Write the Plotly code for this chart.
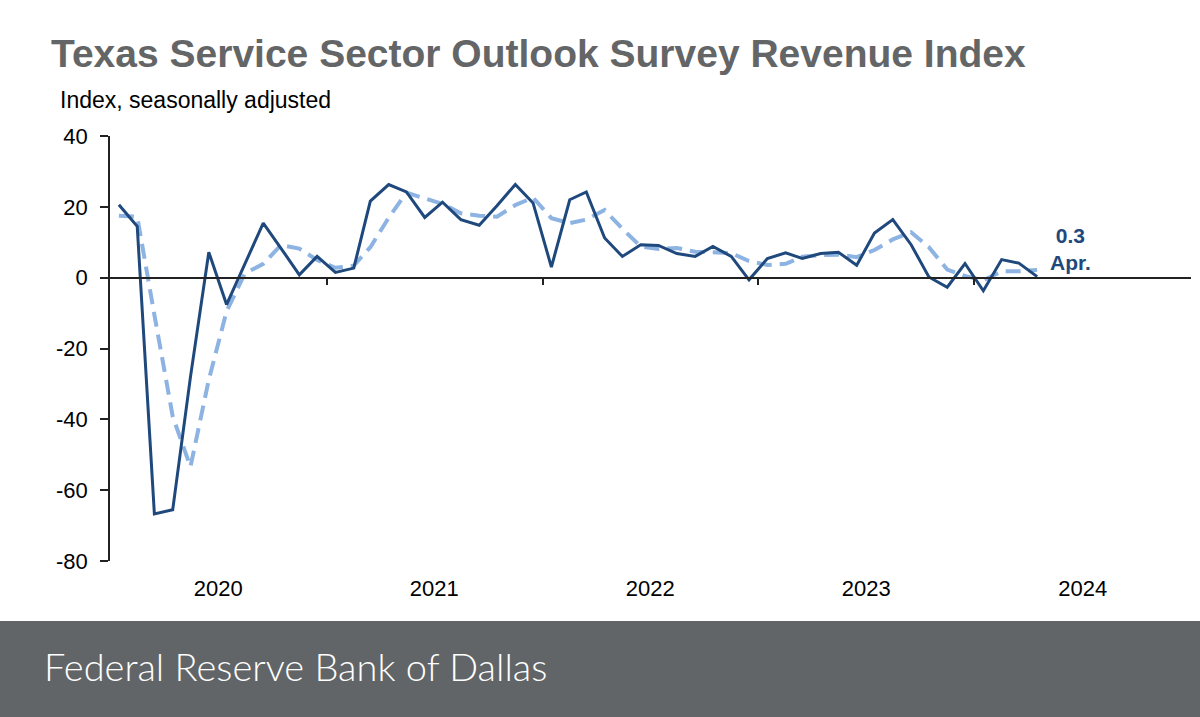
import pandas as pd
import plotly.graph_objects as go

# Monthly data, Jan 2020 - Apr 2024
start_month = "2020-01-01"
n_months = 52
revenue_index = [
    20.6, 14.5, -66.7, -65.5, -28.0, 7.2, -7.6, 4.0, 15.4, 8.3, 0.8, 6.0,
    1.5, 2.7, 21.6, 26.3, 24.2, 17.0, 21.3, 16.4, 14.8, 20.3, 26.3, 21.1,
    3.0, 22.0, 24.2, 11.2, 6.0, 9.3, 9.1, 6.8, 6.0, 8.8, 6.0, -0.6,
    5.4, 7.0, 5.4, 6.8, 7.2, 3.5, 12.6, 16.4, 9.3, 0.2, -2.7, 4.0,
    -3.7, 5.1, 4.1, 0.3,
]
revenue_3mma = [
    17.5, 17.2, -10.5, -39.2, -53.4, -28.8, -9.5, 1.2, 3.9, 9.2, 8.2, 5.0,
    2.8, 3.4, 8.6, 16.9, 24.0, 22.5, 20.8, 18.2, 17.5, 17.2, 20.5, 22.6,
    16.8, 15.4, 16.4, 19.1, 13.8, 8.8, 8.1, 8.4, 7.3, 7.2, 6.9, 4.7,
    3.6, 3.9, 5.9, 6.4, 6.5, 5.8, 7.8, 10.8, 12.8, 8.6, 2.3, 0.5,
    -0.8, 1.8, 1.8, 2.2,
]
year_labels = ["2020", "2021", "2022", "2023", "2024"]
y_ticks = [-80, -60, -40, -20, 0, 20, 40]
y_tick_text = ["-80", "-60", "-40", "-20", "0", "20", "40"]
last_label = ["0.3", "Apr."]

months = pd.date_range(start_month, periods=n_months, freq="MS") + pd.Timedelta(days=15)
year_mid = [f"{y}-07-02" for y in year_labels]
year_bounds = [f"{int(y)}-01-01" for y in year_labels[1:]]

NAVY = "#1f497d"
LIGHT = "#8db3e2"
FONT = "Liberation Sans, Arial, sans-serif"

fig = go.Figure()
fig.add_trace(go.Scatter(
    x=months, y=revenue_3mma, mode="lines",
    line=dict(color=LIGHT, width=4, dash="15px,8px"),
    hoverinfo="skip", showlegend=False,
))
fig.add_trace(go.Scatter(
    x=months, y=revenue_index, mode="lines",
    line=dict(color=NAVY, width=3),
    showlegend=False,
))
# invisible trace on the zero-line axis so it gets drawn
fig.add_trace(go.Scatter(
    x=[months[0]], y=[0], xaxis="x2", mode="markers",
    marker=dict(opacity=0), hoverinfo="skip", showlegend=False,
))

fig.update_layout(
    width=1200, height=717,
    margin=dict(l=110, r=9, t=136, b=156),
    paper_bgcolor="white", plot_bgcolor="white",
    font=dict(family=FONT, color="#000000"),
    xaxis=dict(
        range=["2020-01-01", "2025-01-01"],
        tickmode="array", tickvals=year_mid, ticktext=year_labels,
        ticks="outside", ticklen=8, tickcolor="rgba(0,0,0,0)",
        showgrid=False, showline=False, zeroline=False,
        tickfont=dict(size=22, family=FONT, color="#000"),
    ),
    xaxis2=dict(
        range=["2020-01-01", "2025-01-01"],
        overlaying="x", anchor="free", position=80 / 120, side="bottom",
        tickmode="array", tickvals=year_bounds,
        ticks="outside", ticklen=7, tickwidth=1.5, tickcolor="#222",
        showticklabels=False, showgrid=False, zeroline=False,
        showline=True, linecolor="#222", linewidth=1.5,
    ),
    yaxis=dict(
        range=[-80, 40], tickmode="array", tickvals=y_ticks, ticktext=y_tick_text,
        ticks="outside", ticklen=8, tickwidth=1.5, tickcolor="#222",
        showline=True, linecolor="#222", linewidth=1.5,
        showgrid=False, zeroline=False,
        ticklabelstandoff=8,
        tickfont=dict(size=22, family=FONT, color="#000"),
    ),
    shapes=[dict(
        type="rect", xref="paper", yref="paper",
        x0=-0.2, x1=1.2, y0=-0.6, y1=-60 / 425,
        fillcolor="#626567", line=dict(width=0), layer="above",
    )],
    annotations=[
        dict(text="<b>Texas Service Sector Outlook Survey Revenue Index</b>",
             xref="paper", yref="paper", x=-61 / 1081, y=1 + 83 / 425,
             xanchor="left", yanchor="middle", showarrow=False,
             font=dict(size=39, family=FONT, color="#646566")),
        dict(text="Index, seasonally adjusted",
             xref="paper", yref="paper", x=-52 / 1081, y=1 + 36 / 425,
             xanchor="left", yanchor="middle", showarrow=False,
             font=dict(size=23, family=FONT, color="#000")),
        dict(text=f"<b>{last_label[0]}</b><br><b>{last_label[1]}</b>",
             x="2024-06-12", y=8, xref="x", yref="y",
             xanchor="center", yanchor="middle", showarrow=False, align="center",
             font=dict(size=21, family=FONT, color=NAVY)),
        dict(text="Federal Reserve Bank of Dallas",
             xref="paper", yref="paper", x=-68 / 1081, y=-105 / 425,
             xanchor="left", yanchor="middle", showarrow=False,
             font=dict(size=38, family="Lato, Open Sans, sans-serif", color="white", weight=300)),
    ],
)

fig.write_html(
    "out.html",
    config={"displayModeBar": False},
    post_script="document.body.style.margin='0px';",
)
